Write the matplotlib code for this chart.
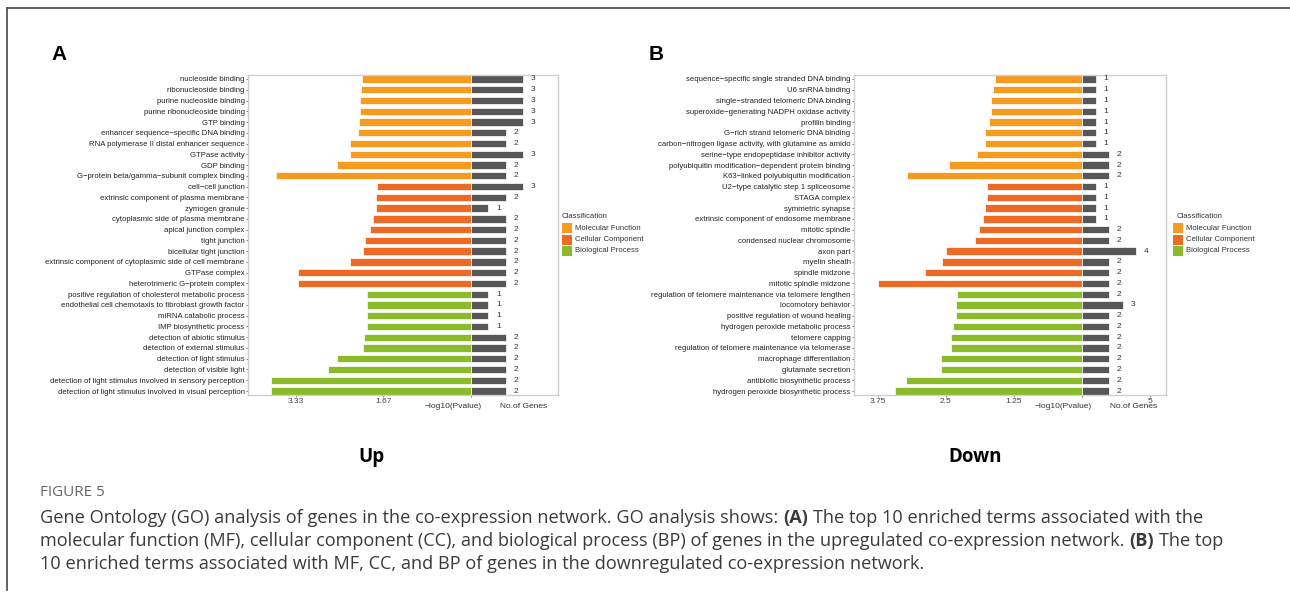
import numpy as np
import matplotlib.pyplot as plt
from matplotlib.patches import Rectangle
from matplotlib.lines import Line2D

plt.rcParams['font.family'] = ['Liberation Sans', 'DejaVu Sans']

# Panel A (up-regulated network)
terms_up = [
    'nucleoside binding', 'ribonucleoside binding', 'purine nucleoside binding',
    'purine ribonucleoside binding', 'GTP binding', 'enhancer sequence−specific DNA binding',
    'RNA polymerase II distal enhancer sequence', 'GTPase activity', 'GDP binding',
    'G−protein beta/gamma−subunit complex binding',
    'cell−cell junction', 'extrinsic component of plasma membrane', 'zymogen granule',
    'cytoplasmic side of plasma membrane', 'apical junction complex', 'tight junction',
    'bicellular tight junction', 'extrinsic component of cytoplasmic side of cell membrane',
    'GTPase complex', 'heterotrimeric G−protein complex',
    'positive regulation of cholesterol metabolic process',
    'endothelial cell chemotaxis to fibroblast growth factor', 'miRNA catabolic process',
    'IMP biosynthetic process', 'detection of abiotic stimulus', 'detection of external stimulus',
    'detection of light stimulus', 'detection of visible light',
    'detection of light stimulus involved in sensory perception',
    'detection of light stimulus involved in visual perception',
]
pval_up = [2.08, 2.10, 2.11, 2.12, 2.13, 2.15, 2.31, 2.31, 2.56, 3.72,
           1.79, 1.81, 1.81, 1.87, 1.92, 2.02, 2.06, 2.31, 3.29, 3.29,
           1.99, 1.99, 1.99, 1.99, 2.04, 2.06, 2.56, 2.72, 3.82, 3.82]
genes_up = [3, 3, 3, 3, 3, 2, 2, 3, 2, 2,
            3, 2, 1, 2, 2, 2, 2, 2, 2, 2,
            1, 1, 1, 1, 2, 2, 2, 2, 2, 2]

# Panel B (down-regulated network)
terms_down = [
    'sequence−specific single stranded DNA binding', 'U6 snRNA binding',
    'single−stranded telomeric DNA binding', 'superoxide−generating NADPH oxidase activity',
    'profilin binding', 'G−rich strand telomeric DNA binding',
    'carbon−nitrogen ligase activity, with glutamine as amido',
    'serine−type endopeptidase inhibitor activity',
    'polyubiquitin modification−dependent protein binding', 'K63−linked polyubiquitin modification',
    'U2−type catalytic step 1 spliceosome', 'STAGA complex', 'symmetric synapse',
    'extrinsic component of endosome membrane', 'mitotic spindle', 'condensed nuclear chromosome',
    'axon part', 'myelin sheath', 'spindle midzone', 'mitotic spindle midzone',
    'regulation of telomere maintenance via telomere lengthen', 'locomotory behavior',
    'positive regulation of wound healing', 'hydrogen peroxide metabolic process',
    'telomere capping', 'regulation of telomere maintenance via telomerase',
    'macrophage differentiation', 'glutamate secretion', 'antibiotic biosynthetic process',
    'hydrogen peroxide biosynthetic process',
]
pval_down = [1.60, 1.64, 1.67, 1.67, 1.71, 1.78, 1.78, 1.92, 2.44, 3.22,
             1.74, 1.74, 1.78, 1.82, 1.89, 1.97, 2.49, 2.57, 2.89, 3.74,
             2.30, 2.31, 2.31, 2.37, 2.40, 2.41, 2.59, 2.59, 3.24, 3.43]
genes_down = [1, 1, 1, 1, 1, 1, 1, 2, 2, 2,
              1, 1, 1, 1, 2, 2, 4, 2, 2, 2,
              2, 3, 2, 2, 2, 2, 2, 2, 2, 2]

classes = ['Molecular Function', 'Cellular Component', 'Biological Process']
class_colors = ['#F69B20', '#EC6A23', '#8CBB2A']
group_size = 10
gene_color = '#575757'

up_ticks = [-3.33, -1.67, 0]
up_ticklabels = ['3.33', '1.67', '']
down_ticks = [-3.75, -2.5, -1.25, 0, 1.25]
down_ticklabels = ['3.75', '2.5', '1.25', '', '5']

W, H = 1290, 597
fig = plt.figure(figsize=(W / 100, H / 100), dpi=100)


def px(x, y):
    return x / W, 1 - y / H


def panel(rect, terms, pval, genes, xlim, ticks, ticklabels):
    ax = fig.add_axes(rect)
    n = len(terms)
    y = np.arange(n)
    cols = [class_colors[i // group_size] for i in range(n)]
    gmax = max(genes)
    scaled = np.array(genes) / gmax
    ax.barh(y, -np.array(pval), height=0.68, color=cols, edgecolor='white', linewidth=0.5)
    ax.barh(y, scaled, height=0.68, color=gene_color, edgecolor='white', linewidth=0.5)
    for yi, s, g in zip(y, scaled, genes):
        ax.annotate(str(g), (s, yi), xytext=(5.5, 0), textcoords='offset points',
                    ha='left', va='center', fontsize=6, color='#333333')
    ax.set_ylim(n - 1 + 0.37, -0.37)
    ax.set_xlim(*xlim)
    ax.set_yticks(y)
    ax.set_yticklabels(terms, fontsize=5.6, color='#222222')
    ax.set_xticks(ticks)
    ax.set_xticklabels(ticklabels, fontsize=6, color='#444444')
    ax.tick_params(axis='both', length=1.5, width=0.5, pad=1, color='#444444')
    for sp in ax.spines.values():
        sp.set_color('#cfcfcf')
        sp.set_linewidth(1.0)
    return ax


ax_a = panel([248 / W, 1 - 395 / H, 310 / W, 320 / H], terms_up, pval_up, genes_up,
             (-4.25, 1.66), up_ticks, up_ticklabels)
ax_b = panel([854 / W, 1 - 395 / H, 312 / W, 320 / H], terms_down, pval_down, genes_down,
             (-4.19, 1.545), down_ticks, down_ticklabels)

# axis captions under the panels
for xl, xg in [(453, 524), (1063, 1134)]:
    fig.text(*px(xl, 407), '−log10(Pvalue)', fontsize=6, color='#333333', ha='center', va='center')
    fig.text(*px(xg, 407), 'No.of Genes', fontsize=6, color='#333333', ha='center', va='center')

# legends
for tx, bx in [(562, 562), (1177, 1173)]:
    fig.text(*px(tx, 216), 'Classification', fontsize=5.6, color='#333333', va='center')
    for i, (lab, c) in enumerate(zip(classes, class_colors)):
        yc = 228 + i * 11.5
        x0, y0 = px(bx, yc + 5)
        fig.patches.append(Rectangle((x0, y0), 10 / W, 10 / H, transform=fig.transFigure,
                                     facecolor=c, edgecolor='none'))
        fig.text(*px(bx + 13, yc), lab, fontsize=5.6, color='#333333', va='center')

# panel letters and titles
fig.text(*px(51, 55), 'A', fontsize=15, fontweight='bold', va='center')
fig.text(*px(649, 55), 'B', fontsize=15, fontweight='bold', va='center')
fig.text(*px(371, 457), 'Up', fontsize=13.5, fontweight='bold', ha='center', va='center',
         family=['Open Sans', 'DejaVu Sans'])
fig.text(*px(975, 457), 'Down', fontsize=13.5, fontweight='bold', ha='center', va='center',
         family=['Open Sans', 'DejaVu Sans'])

# frame lines of the figure box
fig.add_artist(Line2D([7 / W, 1], [1 - 8 / H, 1 - 8 / H], color='#555555', lw=1.3))
fig.add_artist(Line2D([7 / W, 7 / W], [1 - 8 / H, 1 - 590 / H], color='#555555', lw=1.3))

# caption
cap_font = ['Open Sans', 'DejaVu Sans']
cap_size = 13.1
fig.text(*px(40, 492), 'FIGURE 5', fontsize=11, color='#666666', va='center', family=cap_font)

renderer = fig.canvas.get_renderer()
space = fig.text(0, 0, 'a a', fontsize=cap_size, family=cap_font)
w2 = space.get_window_extent(renderer).width
space.set_text('aa')
w1 = space.get_window_extent(renderer).width
space.remove()
space_w = w2 - w1

lines = [
    [('Gene Ontology (GO) analysis of genes in the co-expression network. GO analysis shows:', 'normal'),
     ('(A)', 'bold'), ('The top 10 enriched terms associated with the', 'normal')],
    [('molecular function (MF), cellular component (CC), and biological process (BP) of genes in the upregulated co-expression network.', 'normal'),
     ('(B)', 'bold'), ('The top', 'normal')],
    [('10 enriched terms associated with MF, CC, and BP of genes in the downregulated co-expression network.', 'normal')],
]
for k, segs in enumerate(lines):
    xpix = 40
    ycen = 518 + k * 23
    for s, wgt in segs:
        t = fig.text(*px(xpix, ycen), s, fontsize=cap_size, fontweight=wgt, color='#3a3a3a',
                     va='center', family=cap_font)
        xpix += t.get_window_extent(renderer).width + space_w

fig.savefig('out.png', dpi=100)
